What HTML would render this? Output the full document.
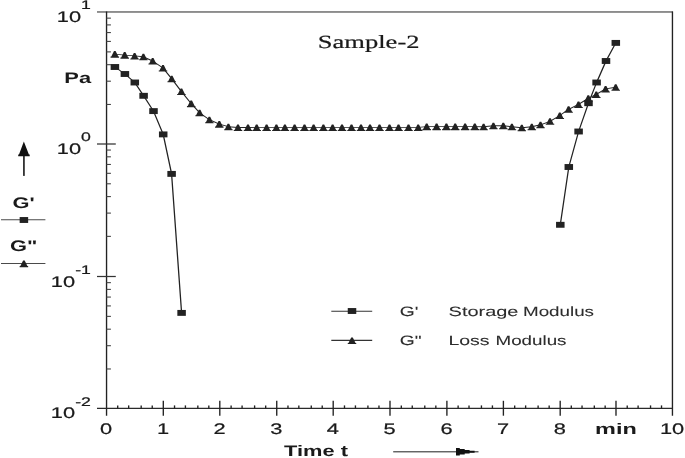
<!DOCTYPE html>
<html lang="en">
<head>
<meta charset="utf-8">
<title>Sample-2 rheology plot</title>
<style>
html,body{margin:0;padding:0;background:#fff;}
body{width:685px;height:458px;overflow:hidden;}
svg{display:block;}
text{text-rendering:geometricPrecision;}
</style>
</head>
<body>
<svg width="685" height="458" viewBox="0 0 685 458">
<rect x="0" y="0" width="685" height="458" fill="#ffffff"/>
<g transform="scale(1.4271,1)">
<rect x="67.97" y="11" width="403.55" height="1.9" fill="#8c8c8c"/>
<g stroke="#222" stroke-width="0.95" fill="none">
<line x1="74.66" y1="11.6" x2="74.66" y2="415.7"/>
<line x1="471.20" y1="11.6" x2="471.20" y2="415.7"/>
</g>
<line x1="67.97" y1="408.40" x2="471.20" y2="408.40" stroke="#2a2a2a" stroke-width="1.15"/>
<g stroke="#222" stroke-width="0.95">
<line x1="114.43" y1="400.8" x2="114.43" y2="415.7"/>
<line x1="154.02" y1="400.8" x2="154.02" y2="415.7"/>
<line x1="193.92" y1="400.8" x2="193.92" y2="415.7"/>
<line x1="233.48" y1="400.8" x2="233.48" y2="415.7"/>
<line x1="273.28" y1="400.8" x2="273.28" y2="415.7"/>
<line x1="313.15" y1="400.8" x2="313.15" y2="415.7"/>
<line x1="352.74" y1="400.8" x2="352.74" y2="415.7"/>
<line x1="392.54" y1="400.8" x2="392.54" y2="415.7"/>
<line x1="431.64" y1="400.8" x2="431.64" y2="415.7"/>
<line x1="82.48" y1="405.4" x2="82.48" y2="408.40"/>
<line x1="90.16" y1="405.4" x2="90.16" y2="408.40"/>
<line x1="98.93" y1="405.4" x2="98.93" y2="408.40"/>
<line x1="106.68" y1="405.4" x2="106.68" y2="408.40"/>
<line x1="122.30" y1="405.4" x2="122.30" y2="408.40"/>
<line x1="129.92" y1="405.4" x2="129.92" y2="408.40"/>
<line x1="138.63" y1="405.4" x2="138.63" y2="408.40"/>
<line x1="146.32" y1="405.4" x2="146.32" y2="408.40"/>
<line x1="161.95" y1="405.4" x2="161.95" y2="408.40"/>
<line x1="169.64" y1="405.4" x2="169.64" y2="408.40"/>
<line x1="178.41" y1="405.4" x2="178.41" y2="408.40"/>
<line x1="186.17" y1="405.4" x2="186.17" y2="408.40"/>
<line x1="201.79" y1="405.4" x2="201.79" y2="408.40"/>
<line x1="209.40" y1="405.4" x2="209.40" y2="408.40"/>
<line x1="218.11" y1="405.4" x2="218.11" y2="408.40"/>
<line x1="225.79" y1="405.4" x2="225.79" y2="408.40"/>
<line x1="241.39" y1="405.4" x2="241.39" y2="408.40"/>
<line x1="249.06" y1="405.4" x2="249.06" y2="408.40"/>
<line x1="257.81" y1="405.4" x2="257.81" y2="408.40"/>
<line x1="265.55" y1="405.4" x2="265.55" y2="408.40"/>
<line x1="281.21" y1="405.4" x2="281.21" y2="408.40"/>
<line x1="288.88" y1="405.4" x2="288.88" y2="408.40"/>
<line x1="297.65" y1="405.4" x2="297.65" y2="408.40"/>
<line x1="305.40" y1="405.4" x2="305.40" y2="408.40"/>
<line x1="321.02" y1="405.4" x2="321.02" y2="408.40"/>
<line x1="328.65" y1="405.4" x2="328.65" y2="408.40"/>
<line x1="337.35" y1="405.4" x2="337.35" y2="408.40"/>
<line x1="345.05" y1="405.4" x2="345.05" y2="408.40"/>
<line x1="360.65" y1="405.4" x2="360.65" y2="408.40"/>
<line x1="368.32" y1="405.4" x2="368.32" y2="408.40"/>
<line x1="377.07" y1="405.4" x2="377.07" y2="408.40"/>
<line x1="384.81" y1="405.4" x2="384.81" y2="408.40"/>
<line x1="400.32" y1="405.4" x2="400.32" y2="408.40"/>
<line x1="407.85" y1="405.4" x2="407.85" y2="408.40"/>
<line x1="416.45" y1="405.4" x2="416.45" y2="408.40"/>
<line x1="424.05" y1="405.4" x2="424.05" y2="408.40"/>
<line x1="439.51" y1="405.4" x2="439.51" y2="408.40"/>
<line x1="447.14" y1="405.4" x2="447.14" y2="408.40"/>
<line x1="455.85" y1="405.4" x2="455.85" y2="408.40"/>
<line x1="463.54" y1="405.4" x2="463.54" y2="408.40"/>
</g>
<g stroke="#333" stroke-width="1.25">
<line x1="67.97" y1="144.00" x2="81.14" y2="144.00"/>
<line x1="67.97" y1="276.50" x2="81.14" y2="276.50"/>
</g>
<g stroke="#444" stroke-width="1.1">
<line x1="74.56" y1="104.47" x2="77.71" y2="104.47"/>
<line x1="74.56" y1="81.20" x2="77.71" y2="81.20"/>
<line x1="74.56" y1="64.69" x2="77.71" y2="64.69"/>
<line x1="74.56" y1="51.88" x2="77.71" y2="51.88"/>
<line x1="74.56" y1="41.42" x2="77.71" y2="41.42"/>
<line x1="74.56" y1="32.57" x2="77.71" y2="32.57"/>
<line x1="74.56" y1="24.91" x2="77.71" y2="24.91"/>
<line x1="74.56" y1="18.15" x2="77.71" y2="18.15"/>
<line x1="74.56" y1="236.37" x2="77.71" y2="236.37"/>
<line x1="74.56" y1="213.10" x2="77.71" y2="213.10"/>
<line x1="74.56" y1="196.59" x2="77.71" y2="196.59"/>
<line x1="74.56" y1="183.78" x2="77.71" y2="183.78"/>
<line x1="74.56" y1="173.32" x2="77.71" y2="173.32"/>
<line x1="74.56" y1="164.47" x2="77.71" y2="164.47"/>
<line x1="74.56" y1="156.81" x2="77.71" y2="156.81"/>
<line x1="74.56" y1="150.05" x2="77.71" y2="150.05"/>
<line x1="74.56" y1="368.97" x2="77.71" y2="368.97"/>
<line x1="74.56" y1="345.70" x2="77.71" y2="345.70"/>
<line x1="74.56" y1="329.19" x2="77.71" y2="329.19"/>
<line x1="74.56" y1="316.38" x2="77.71" y2="316.38"/>
<line x1="74.56" y1="305.92" x2="77.71" y2="305.92"/>
<line x1="74.56" y1="297.07" x2="77.71" y2="297.07"/>
<line x1="74.56" y1="289.41" x2="77.71" y2="289.41"/>
<line x1="74.56" y1="282.65" x2="77.71" y2="282.65"/>
</g>
<g stroke="#222" stroke-width="0.9" fill="none" stroke-linejoin="round">
<polyline points="80.44,54.10 87.38,55.10 94.32,55.90 100.48,56.80 107.00,61.00 114.22,68.00 120.31,78.80 127.11,91.50 133.98,103.60 139.86,112.80 146.73,119.70 153.67,124.10 160.04,126.70 166.77,127.50 173.78,127.50 179.88,127.40 186.81,127.40 193.68,127.40 199.64,127.40 206.43,127.40 213.37,127.40 219.75,127.40 226.61,127.40 233.06,127.40 239.65,127.40 246.30,127.40 252.96,127.40 259.27,127.40 265.92,127.40 272.93,127.40 279.24,127.40 286.24,127.40 293.04,127.40 299.00,126.60 305.94,126.60 312.80,126.60 318.97,126.60 325.91,126.60 332.70,126.60 338.87,126.80 345.74,125.80 352.67,125.80 358.70,126.70 365.64,127.70 372.64,126.70 378.74,124.80 385.40,121.30 392.26,115.50 398.43,109.30 405.37,104.40 412.23,98.30 417.84,94.40 424.36,88.90 431.43,87.30"/>
<polyline points="80.51,67.00 87.52,74.00 94.46,82.50 100.62,95.80 107.56,111.10 114.36,134.40 120.24,173.90 127.25,312.90"/>
<polyline points="392.61,224.80 398.57,167.00 405.44,131.50 412.37,103.20 418.05,82.50 424.64,61.00 431.50,42.90"/>
</g>
<g fill="#222">
<rect x="77.53" y="64.05" width="5.96" height="5.9"/>
<rect x="84.54" y="71.05" width="5.96" height="5.9"/>
<rect x="91.48" y="79.55" width="5.96" height="5.9"/>
<rect x="97.65" y="92.85" width="5.96" height="5.9"/>
<rect x="104.58" y="108.15" width="5.96" height="5.9"/>
<rect x="111.38" y="131.45" width="5.96" height="5.9"/>
<rect x="117.27" y="170.95" width="5.96" height="5.9"/>
<rect x="124.27" y="309.95" width="5.96" height="5.9"/>
<rect x="389.64" y="221.85" width="5.96" height="5.9"/>
<rect x="395.59" y="164.05" width="5.96" height="5.9"/>
<rect x="402.46" y="128.55" width="5.96" height="5.9"/>
<rect x="409.40" y="100.25" width="5.96" height="5.9"/>
<rect x="415.07" y="79.55" width="5.96" height="5.9"/>
<rect x="421.66" y="58.05" width="5.96" height="5.9"/>
<rect x="428.53" y="39.95" width="5.96" height="5.9"/>
<polygon points="79.88,51.10 81.00,51.10 82.90,56.60 83.42,56.60 83.42,57.65 77.46,57.65 77.46,56.60 77.99,56.60"/>
<polygon points="86.82,52.10 87.94,52.10 89.83,57.60 90.36,57.60 90.36,58.65 84.40,58.65 84.40,57.60 84.93,57.60"/>
<polygon points="93.76,52.90 94.88,52.90 96.77,58.40 97.30,58.40 97.30,59.45 91.34,59.45 91.34,58.40 91.86,58.40"/>
<polygon points="99.92,53.80 101.04,53.80 102.94,59.30 103.46,59.30 103.46,60.35 97.51,60.35 97.51,59.30 98.03,59.30"/>
<polygon points="106.44,58.00 107.56,58.00 109.45,63.50 109.98,63.50 109.98,64.55 104.02,64.55 104.02,63.50 104.55,63.50"/>
<polygon points="113.66,65.00 114.78,65.00 116.67,70.50 117.20,70.50 117.20,71.55 111.24,71.55 111.24,70.50 111.77,70.50"/>
<polygon points="119.75,75.80 120.87,75.80 122.77,81.30 123.29,81.30 123.29,82.35 117.34,82.35 117.34,81.30 117.86,81.30"/>
<polygon points="126.55,88.50 127.67,88.50 129.56,94.00 130.09,94.00 130.09,95.05 124.13,95.05 124.13,94.00 124.66,94.00"/>
<polygon points="133.42,100.60 134.54,100.60 136.43,106.10 136.96,106.10 136.96,107.15 131.00,107.15 131.00,106.10 131.53,106.10"/>
<polygon points="139.30,109.80 140.42,109.80 142.32,115.30 142.84,115.30 142.84,116.35 136.89,116.35 136.89,115.30 137.41,115.30"/>
<polygon points="146.17,116.70 147.29,116.70 149.18,122.20 149.71,122.20 149.71,123.25 143.75,123.25 143.75,122.20 144.28,122.20"/>
<polygon points="153.11,121.10 154.23,121.10 156.12,126.60 156.65,126.60 156.65,127.65 150.69,127.65 150.69,126.60 151.22,126.60"/>
<polygon points="159.48,123.70 160.61,123.70 162.50,129.20 163.02,129.20 163.02,130.25 157.07,130.25 157.07,129.20 157.59,129.20"/>
<polygon points="166.21,124.50 167.33,124.50 169.22,130.00 169.75,130.00 169.75,131.05 163.79,131.05 163.79,130.00 164.32,130.00"/>
<polygon points="173.22,124.50 174.34,124.50 176.23,130.00 176.76,130.00 176.76,131.05 170.80,131.05 170.80,130.00 171.33,130.00"/>
<polygon points="179.31,124.40 180.44,124.40 182.33,129.90 182.85,129.90 182.85,130.95 176.90,130.95 176.90,129.90 177.42,129.90"/>
<polygon points="186.25,124.40 187.37,124.40 189.26,129.90 189.79,129.90 189.79,130.95 183.83,130.95 183.83,129.90 184.36,129.90"/>
<polygon points="193.12,124.40 194.24,124.40 196.13,129.90 196.66,129.90 196.66,130.95 190.70,130.95 190.70,129.90 191.23,129.90"/>
<polygon points="199.08,124.40 200.20,124.40 202.09,129.90 202.61,129.90 202.61,130.95 196.66,130.95 196.66,129.90 197.18,129.90"/>
<polygon points="205.87,124.40 206.99,124.40 208.89,129.90 209.41,129.90 209.41,130.95 203.45,130.95 203.45,129.90 203.98,129.90"/>
<polygon points="212.81,124.40 213.93,124.40 215.82,129.90 216.35,129.90 216.35,130.95 210.39,130.95 210.39,129.90 210.92,129.90"/>
<polygon points="219.19,124.40 220.31,124.40 222.20,129.90 222.72,129.90 222.72,130.95 216.77,130.95 216.77,129.90 217.29,129.90"/>
<polygon points="226.05,124.40 227.17,124.40 229.07,129.90 229.59,129.90 229.59,130.95 223.64,130.95 223.64,129.90 224.16,129.90"/>
<polygon points="232.50,124.40 233.62,124.40 235.51,129.90 236.04,129.90 236.04,130.95 230.08,130.95 230.08,129.90 230.61,129.90"/>
<polygon points="239.09,124.40 240.21,124.40 242.10,129.90 242.62,129.90 242.62,130.95 236.67,130.95 236.67,129.90 237.19,129.90"/>
<polygon points="245.74,124.40 246.86,124.40 248.76,129.90 249.28,129.90 249.28,130.95 243.33,130.95 243.33,129.90 243.85,129.90"/>
<polygon points="252.40,124.40 253.52,124.40 255.41,129.90 255.94,129.90 255.94,130.95 249.98,130.95 249.98,129.90 250.51,129.90"/>
<polygon points="258.71,124.40 259.83,124.40 261.72,129.90 262.25,129.90 262.25,130.95 256.29,130.95 256.29,129.90 256.81,129.90"/>
<polygon points="265.36,124.40 266.48,124.40 268.38,129.90 268.90,129.90 268.90,130.95 262.95,130.95 262.95,129.90 263.47,129.90"/>
<polygon points="272.37,124.40 273.49,124.40 275.38,129.90 275.91,129.90 275.91,130.95 269.95,130.95 269.95,129.90 270.48,129.90"/>
<polygon points="278.68,124.40 279.80,124.40 281.69,129.90 282.22,129.90 282.22,130.95 276.26,130.95 276.26,129.90 276.79,129.90"/>
<polygon points="285.68,124.40 286.81,124.40 288.70,129.90 289.22,129.90 289.22,130.95 283.27,130.95 283.27,129.90 283.79,129.90"/>
<polygon points="292.48,124.40 293.60,124.40 295.49,129.90 296.02,129.90 296.02,130.95 290.06,130.95 290.06,129.90 290.59,129.90"/>
<polygon points="298.44,123.60 299.56,123.60 301.45,129.10 301.98,129.10 301.98,130.15 296.02,130.15 296.02,129.10 296.55,129.10"/>
<polygon points="305.37,123.60 306.50,123.60 308.39,129.10 308.91,129.10 308.91,130.15 302.96,130.15 302.96,129.10 303.48,129.10"/>
<polygon points="312.24,123.60 313.36,123.60 315.25,129.10 315.78,129.10 315.78,130.15 309.82,130.15 309.82,129.10 310.35,129.10"/>
<polygon points="318.41,123.60 319.53,123.60 321.42,129.10 321.95,129.10 321.95,130.15 315.99,130.15 315.99,129.10 316.52,129.10"/>
<polygon points="325.35,123.60 326.47,123.60 328.36,129.10 328.88,129.10 328.88,130.15 322.93,130.15 322.93,129.10 323.45,129.10"/>
<polygon points="332.14,123.60 333.26,123.60 335.16,129.10 335.68,129.10 335.68,130.15 329.72,130.15 329.72,129.10 330.25,129.10"/>
<polygon points="338.31,123.80 339.43,123.80 341.32,129.30 341.85,129.30 341.85,130.35 335.89,130.35 335.89,129.30 336.42,129.30"/>
<polygon points="345.18,122.80 346.30,122.80 348.19,128.30 348.71,128.30 348.71,129.35 342.76,129.35 342.76,128.30 343.28,128.30"/>
<polygon points="352.11,122.80 353.23,122.80 355.13,128.30 355.65,128.30 355.65,129.35 349.70,129.35 349.70,128.30 350.22,128.30"/>
<polygon points="358.14,123.70 359.26,123.70 361.15,129.20 361.68,129.20 361.68,130.25 355.72,130.25 355.72,129.20 356.25,129.20"/>
<polygon points="365.08,124.70 366.20,124.70 368.09,130.20 368.61,130.20 368.61,131.25 362.66,131.25 362.66,130.20 363.18,130.20"/>
<polygon points="372.08,123.70 373.20,123.70 375.10,129.20 375.62,129.20 375.62,130.25 369.67,130.25 369.67,129.20 370.19,129.20"/>
<polygon points="378.18,121.80 379.30,121.80 381.19,127.30 381.72,127.30 381.72,128.35 375.76,128.35 375.76,127.30 376.29,127.30"/>
<polygon points="384.84,118.30 385.96,118.30 387.85,123.80 388.38,123.80 388.38,124.85 382.42,124.85 382.42,123.80 382.94,123.80"/>
<polygon points="391.70,112.50 392.82,112.50 394.72,118.00 395.24,118.00 395.24,119.05 389.29,119.05 389.29,118.00 389.81,118.00"/>
<polygon points="397.87,106.30 398.99,106.30 400.88,111.80 401.41,111.80 401.41,112.85 395.45,112.85 395.45,111.80 395.98,111.80"/>
<polygon points="404.81,101.40 405.93,101.40 407.82,106.90 408.35,106.90 408.35,107.95 402.39,107.95 402.39,106.90 402.92,106.90"/>
<polygon points="411.67,95.30 412.80,95.30 414.69,100.80 415.21,100.80 415.21,101.85 409.26,101.85 409.26,100.80 409.78,100.80"/>
<polygon points="417.28,91.40 418.40,91.40 420.29,96.90 420.82,96.90 420.82,97.95 414.86,97.95 414.86,96.90 415.39,96.90"/>
<polygon points="423.80,85.90 424.92,85.90 426.81,91.40 427.34,91.40 427.34,92.45 421.38,92.45 421.38,91.40 421.90,91.40"/>
<polygon points="430.87,84.30 431.99,84.30 433.89,89.80 434.41,89.80 434.41,90.85 428.46,90.85 428.46,89.80 428.98,89.80"/>
</g>
<g stroke="#333" stroke-width="1.1">
<line x1="232.15" y1="311.3" x2="260.81" y2="311.3"/>
<line x1="232.15" y1="340.4" x2="260.81" y2="340.4"/>
</g>
<g stroke="#4a4a4a" stroke-width="1.0">
<line x1="0.70" y1="219.7" x2="31.81" y2="219.7"/>
<line x1="0.70" y1="263.4" x2="31.81" y2="263.4"/>
</g>
<g fill="#222">
<rect x="243.68" y="308.05" width="5.96" height="5.9"/>
<polygon points="246.09,337.40 247.21,337.40 249.11,342.90 249.63,342.90 249.63,343.95 243.68,343.95 243.68,342.90 244.20,342.90"/>
<rect x="13.77" y="217.05" width="5.96" height="5.9"/>
<polygon points="16.19,260.60 17.31,260.60 19.20,266.10 19.73,266.10 19.73,267.15 13.77,267.15 13.77,266.10 14.29,266.10"/>
</g>
<g fill="#111" stroke="none">
<polygon points="16.71,141.5 13.31,154.6 12.75,154.6 12.75,156.3 20.81,156.3 20.81,154.6 20.25,154.6"/>
<rect x="16.22" y="156" width="1.09" height="19.9"/>
<rect x="275.52" y="451.25" width="59.77" height="1.1" fill="#333"/>
<polygon points="319.53,447.90 322.19,447.90 322.19,448.90 325.63,448.90 325.63,449.90 329.06,449.90 329.06,450.80 332.56,450.80 332.56,451.30 332.56,452.30 332.56,452.70 329.06,452.70 329.06,453.50 325.63,453.50 325.63,454.60 322.19,454.60 322.19,455.60 319.53,455.60"/>
</g>
<g fill="#1a1a1a">
<text x="63.70" y="9.10" font-family="'Liberation Sans', Arial, Helvetica, sans-serif" font-size="12.4" text-anchor="end" stroke="#1a1a1a" stroke-width="0.22">1</text>
<text x="56.80" y="21.90" font-family="'Liberation Sans', Arial, Helvetica, sans-serif" font-size="15.3" text-anchor="end" stroke="#1a1a1a" stroke-width="0.22">10</text>
<text x="63.70" y="141.10" font-family="'Liberation Sans', Arial, Helvetica, sans-serif" font-size="12.4" text-anchor="end" stroke="#1a1a1a" stroke-width="0.22">0</text>
<text x="56.80" y="153.90" font-family="'Liberation Sans', Arial, Helvetica, sans-serif" font-size="15.3" text-anchor="end" stroke="#1a1a1a" stroke-width="0.22">10</text>
<text x="63.70" y="273.70" font-family="'Liberation Sans', Arial, Helvetica, sans-serif" font-size="12.4" text-anchor="end" stroke="#1a1a1a" stroke-width="0.22">-1</text>
<text x="52.67" y="286.50" font-family="'Liberation Sans', Arial, Helvetica, sans-serif" font-size="15.3" text-anchor="end" stroke="#1a1a1a" stroke-width="0.22">10</text>
<text x="63.70" y="405.50" font-family="'Liberation Sans', Arial, Helvetica, sans-serif" font-size="12.4" text-anchor="end" stroke="#1a1a1a" stroke-width="0.22">-2</text>
<text x="52.67" y="418.30" font-family="'Liberation Sans', Arial, Helvetica, sans-serif" font-size="15.3" text-anchor="end" stroke="#1a1a1a" stroke-width="0.22">10</text>
<text x="54.45" y="83.00" font-family="'Liberation Sans', Arial, Helvetica, sans-serif" font-size="15.3" font-weight="bold" text-anchor="middle">Pa</text>
<text x="16.54" y="207.70" font-family="'Liberation Sans', Arial, Helvetica, sans-serif" font-size="15.3" font-weight="bold" text-anchor="middle">G'</text>
<text x="16.54" y="251.20" font-family="'Liberation Sans', Arial, Helvetica, sans-serif" font-size="15.3" font-weight="bold" text-anchor="middle">G&quot;</text>
<text x="74.35" y="434.00" font-family="'Liberation Sans', Arial, Helvetica, sans-serif" font-size="15.3" text-anchor="middle" stroke="#1a1a1a" stroke-width="0.22">0</text>
<text x="114.22" y="434.00" font-family="'Liberation Sans', Arial, Helvetica, sans-serif" font-size="15.3" text-anchor="middle" stroke="#1a1a1a" stroke-width="0.22">1</text>
<text x="153.81" y="434.00" font-family="'Liberation Sans', Arial, Helvetica, sans-serif" font-size="15.3" text-anchor="middle" stroke="#1a1a1a" stroke-width="0.22">2</text>
<text x="193.71" y="434.00" font-family="'Liberation Sans', Arial, Helvetica, sans-serif" font-size="15.3" text-anchor="middle" stroke="#1a1a1a" stroke-width="0.22">3</text>
<text x="233.27" y="434.00" font-family="'Liberation Sans', Arial, Helvetica, sans-serif" font-size="15.3" text-anchor="middle" stroke="#1a1a1a" stroke-width="0.22">4</text>
<text x="273.07" y="434.00" font-family="'Liberation Sans', Arial, Helvetica, sans-serif" font-size="15.3" text-anchor="middle" stroke="#1a1a1a" stroke-width="0.22">5</text>
<text x="312.94" y="434.00" font-family="'Liberation Sans', Arial, Helvetica, sans-serif" font-size="15.3" text-anchor="middle" stroke="#1a1a1a" stroke-width="0.22">6</text>
<text x="352.53" y="434.00" font-family="'Liberation Sans', Arial, Helvetica, sans-serif" font-size="15.3" text-anchor="middle" stroke="#1a1a1a" stroke-width="0.22">7</text>
<text x="392.33" y="434.00" font-family="'Liberation Sans', Arial, Helvetica, sans-serif" font-size="15.3" text-anchor="middle" stroke="#1a1a1a" stroke-width="0.22">8</text>
<g transform="translate(431.57,0) scale(1.075,1)"><text x="0" y="434.0" font-family="'Liberation Sans', Arial, Helvetica, sans-serif" font-size="15.3" font-weight="bold" text-anchor="middle">min</text></g>
<text x="470.96" y="434.00" font-family="'Liberation Sans', Arial, Helvetica, sans-serif" font-size="15.3" text-anchor="middle" stroke="#1a1a1a" stroke-width="0.22">10</text>
<text x="221.43" y="456.20" font-family="'Liberation Sans', Arial, Helvetica, sans-serif" font-size="15.3" font-weight="bold" text-anchor="middle">Time t</text>
<text x="280.15" y="316.00" font-family="'Liberation Sans', Arial, Helvetica, sans-serif" font-size="13.5" text-anchor="start" fill="#2c2c2c" stroke="#2c2c2c" stroke-width="0.08">G'</text>
<text x="280.15" y="345.10" font-family="'Liberation Sans', Arial, Helvetica, sans-serif" font-size="13.5" text-anchor="start" fill="#2c2c2c" stroke="#2c2c2c" stroke-width="0.08">G&quot;</text>
<text transform="translate(314.34,316.00) scale(1.035,1)" font-family="'Liberation Sans', Arial, Helvetica, sans-serif" font-size="13.5" text-anchor="start" fill="#2c2c2c" stroke="#2c2c2c" stroke-width="0.08">Storage</text>
<text transform="translate(366.48,316.00) scale(0.975,1)" font-family="'Liberation Sans', Arial, Helvetica, sans-serif" font-size="13.5" text-anchor="start" fill="#2c2c2c" stroke="#2c2c2c" stroke-width="0.08">Modulus</text>
<text transform="translate(314.20,345.00) scale(1.01,1)" font-family="'Liberation Sans', Arial, Helvetica, sans-serif" font-size="13.5" text-anchor="start" fill="#2c2c2c" stroke="#2c2c2c" stroke-width="0.08">Loss</text>
<text transform="translate(347.21,345.00) scale(0.975,1)" font-family="'Liberation Sans', Arial, Helvetica, sans-serif" font-size="13.5" text-anchor="start" fill="#2c2c2c" stroke="#2c2c2c" stroke-width="0.08">Modulus</text>
<text x="222.69" y="48.10" font-family="'Liberation Serif', 'Times New Roman', Times, serif" font-size="18.6" text-anchor="start" stroke="#1a1a1a" stroke-width="0.2">Sample-2</text>
</g>
</g>
</svg>
</body>
</html>
